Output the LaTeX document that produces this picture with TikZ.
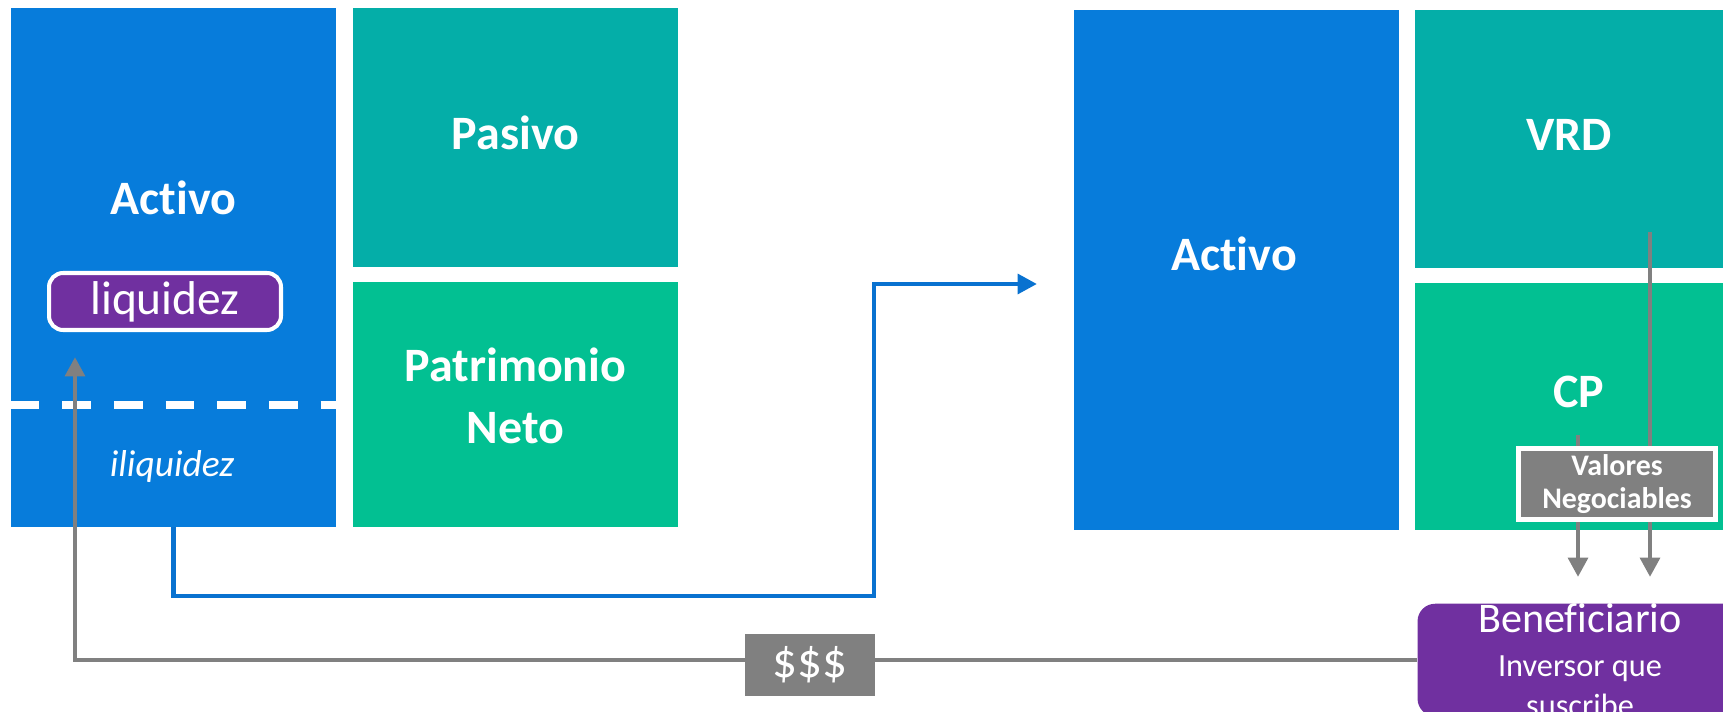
\documentclass[tikz,border=0pt]{standalone}
\usepackage{fontspec}
\setmainfont{Carlito}[Ligatures=NoCommon]
\usetikzlibrary{positioning,arrows.meta}
\definecolor{activoblue}{RGB}{7,124,219}
\definecolor{lineblue}{RGB}{9,114,208}
\definecolor{pasivoteal}{RGB}{4,174,168}
\definecolor{netogreen}{RGB}{2,192,146}
\definecolor{benefpurple}{RGB}{112,48,160}
\definecolor{flowgray}{RGB}{128,128,128}

\tikzset{
  block/.style={rectangle, inner sep=0pt, minimum width=6.5cm},
  boxlbl/.style={text=white, font=\fontsize{27.3}{35}\selectfont\bfseries, align=center},
  flow/.style={line width=2.8pt, flowgray, -{Triangle[length=11pt,width=11pt]}},
  transfer/.style={line width=2.8pt, lineblue, -{Triangle[length=11pt,width=11pt]}},
}

\begin{document}
\begin{tikzpicture}[x=0.02cm, y=-0.02cm]
  \useasboundingbox (0,0) rectangle (1723,712);

  % balance de la empresa
  \node[block, fill=activoblue, minimum height=10.38cm] (activoA) at (173.5,267.5) {};
  \node[block, fill=pasivoteal, minimum height=5.18cm] (pasivo) at (515.5,137.5) {};
  \node[block, fill=netogreen, minimum height=4.9cm] (patrimonio) at (515.5,404.5) {};
  \node[boxlbl] (activoAtxt) at (173.5,198) {Activo};
  \node[boxlbl] (pasivotxt) at (515.5,133) {Pasivo};
  \node[boxlbl] (patrimoniotxt) at (515.5,396) {Patrimonio\\Neto};
  \node[text=white, font=\fontsize{21.3}{24}\selectfont\itshape] (iliq) at (172,467) {iliquidez};

  \coordinate (cut) at (0,405);
  \draw[white, line width=4pt, dash pattern=on 16.4pt off 13pt] (activoA.west |- cut) -- (activoA.east |- cut);

  % balance del fideicomiso
  \node[block, fill=activoblue, minimum height=10.4cm] (activoB) at (1236.5,270) {};
  \node[block, fill=pasivoteal, minimum height=5.16cm] (vrd) at (1577.5,139) {};
  \node[block, fill=netogreen, minimum height=4.94cm] (cp) at (1577.5,406.5) {};
  \node[boxlbl] (activoBtxt) at (1234,254) {Activo};
  \node[boxlbl] (vrdtxt) at (1569,135) {VRD};
  \node[boxlbl] (cptxt) at (1579,392) {CP};

  \node[rectangle, rounded corners=10pt, fill=benefpurple, inner sep=0pt,
        minimum width=6.5cm, minimum height=2.2cm, text=white, align=center,
        font=\fontsize{18.4}{22.7}\selectfont] (benef) at (1580,660)
    {{\fontsize{24}{24}\selectfont Beneficiario}\\[2pt]Inversor que\\suscribe};

  % flujos
  \coordinate (entry) at (1037,284);
  \coordinate (bend) at (874,596);
  \draw[transfer] (activoA.south) |- (bend) |- (entry);

  \coordinate (retTip) at (75,357);
  \node[rectangle, fill=flowgray, minimum width=2.6cm, minimum height=1.24cm, inner sep=0pt,
        text=white, font=\fontsize{28}{30}\selectfont] (dinero) at (810,665) {\$\$\$};
  \draw[line width=2.8pt, flowgray] (benef.west) -- (benef.west -| dinero.east);
  \draw[flow] (benef.west -| dinero.west) -- (benef.west -| retTip) -- (retTip);

  \coordinate (cpTop) at (1578,435);
  \coordinate (cpTip) at (1578,577);
  \coordinate (vrdTop) at (1650,232);
  \coordinate (vrdTip) at (1650,577);
  \draw[flow] (cpTop) -- (cpTip);
  \draw[flow] (vrdTop) -- (vrdTip);

  \node[rectangle, draw=white, line width=2.8pt, fill=flowgray, minimum width=3.94cm,
        minimum height=1.42cm, inner sep=0pt, text=white, align=center,
        font=\fontsize{17}{19}\selectfont\bfseries] (valores) at (1617,484) {Valores\\Negociables};

  \node[rectangle, rounded corners=8pt, draw=white, line width=2.3pt, fill=benefpurple,
        minimum width=4.64cm, minimum height=1.14cm, inner sep=0pt, text=white,
        font=\fontsize{27}{30}\selectfont] (liquidez) at (165,301.5) {liquidez};
\end{tikzpicture}
\end{document}
